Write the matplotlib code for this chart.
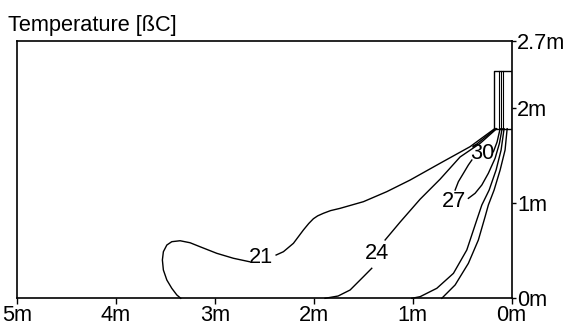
import matplotlib
matplotlib.use("Agg")
import matplotlib.pyplot as plt

plt.rcParams['font.family'] = ['Liberation Sans', 'DejaVu Sans']

# ejes (metros)
x_ticks = [5, 4, 3, 2, 1, 0]
x_labels = ["5m", "4m", "3m", "2m", "1m", "0m"]
y_ticks = [0, 1, 2, 2.7]
y_labels = ["0m", "1m", "2m", "2.7m"]

# difusor
box_x = [0.0, 0.18]
box_y = [1.78, 2.38]
vanes_x = [0.122, 0.105, 0.082]

# isoterma 21
c21a_x = [0.17, 0.419, 0.722, 1.025, 1.261, 1.497, 1.733, 1.830, 1.902, 1.960, 2.003, 2.050, 2.104, 2.205, 2.306, 2.380]
c21a_y = [1.78, 1.591, 1.417, 1.241, 1.119, 1.014, 0.944, 0.920, 0.892, 0.865, 0.835, 0.785, 0.717, 0.577, 0.489, 0.454]
c21b_x = [2.650, 2.812, 2.980, 3.149, 3.250, 3.351, 3.435, 3.485, 3.520, 3.530, 3.520, 3.485, 3.435, 3.384, 3.344]
c21b_y = [0.384, 0.420, 0.472, 0.541, 0.583, 0.604, 0.594, 0.559, 0.489, 0.402, 0.297, 0.192, 0.105, 0.035, 0.0]

# isoterma 24
c24a_x = [0.15, 0.317, 0.520, 0.722, 0.924, 1.126, 1.278]
c24a_y = [1.78, 1.626, 1.483, 1.25, 1.04, 0.80, 0.612]
c24b_x = [1.413, 1.497, 1.632, 1.753, 1.885]
c24b_y = [0.315, 0.227, 0.087, 0.024, 0.0]

# isotermas 27 / 30
p1_x = [0.16, 0.277, 0.385]
p1_y = [1.78, 1.681, 1.591]
p2_x = [0.401, 0.436, 0.486, 0.537, 0.570]
p2_y = [1.451, 1.399, 1.312, 1.224, 1.136]
p3_x = [0.183, 0.146, 0.115]
p3_y = [1.538, 1.640, 1.78]
p4_x = [0.436, 0.368, 0.300, 0.234, 0.166, 0.122, 0.095]
p4_y = [1.049, 1.102, 1.189, 1.312, 1.469, 1.626, 1.78]
p5_x = [0.075, 0.105, 0.156, 0.226, 0.300, 0.351, 0.452, 0.587, 0.755, 0.924, 1.008]
p5_y = [1.78, 1.556, 1.346, 1.136, 0.979, 0.822, 0.507, 0.262, 0.105, 0.017, 0.0]
p6_x = [0.044, 0.065, 0.115, 0.176, 0.234, 0.267, 0.335, 0.436, 0.570, 0.705]
p6_y = [1.78, 1.556, 1.346, 1.136, 0.979, 0.856, 0.612, 0.367, 0.140, 0.0]

# etiquetas
lab_text = ["21", "24", "27", "30"]
lab_x = [2.529, 1.362, 0.582, 0.292]
lab_y = [0.428, 0.465, 1.014, 1.522]

fs = 15.7

fig = plt.figure(figsize=(5.75, 3.22), dpi=100)
ax = fig.add_axes([17 / 575, 23.7 / 322, 494.5 / 575, 257.3 / 322])

lw = 1.0
for xs, ys in [(c21a_x, c21a_y), (c21b_x, c21b_y), (c24a_x, c24a_y), (c24b_x, c24b_y),
               (p1_x, p1_y), (p2_x, p2_y), (p3_x, p3_y), (p4_x, p4_y),
               (p5_x, p5_y), (p6_x, p6_y)]:
    ax.plot(xs, ys, color="black", lw=lw, clip_on=False, solid_joinstyle="round")

# difusor
ax.plot([box_x[0], box_x[1], box_x[1], box_x[0], box_x[0]],
        [box_y[0], box_y[0], box_y[1], box_y[1], box_y[0]], color="black", lw=lw)
for v in vanes_x:
    ax.plot([v, v], box_y, color="black", lw=0.8)

for t, x, y in zip(lab_text, lab_x, lab_y):
    ax.text(x, y, t, fontsize=fs, ha="center", va="center")

ax.set_xlim(5, 0)
ax.set_ylim(0, 2.7)
ax.set_xticks(x_ticks)
ax.set_xticklabels(x_labels)
ax.set_yticks(y_ticks)
ax.set_yticklabels(y_labels)
ax.yaxis.tick_right()
ax.tick_params(axis="x", direction="out", length=4, width=1, pad=1, labelsize=fs)
ax.tick_params(axis="y", direction="out", length=3, width=1, pad=1, labelsize=fs)
for s in ax.spines.values():
    s.set_linewidth(1.2)

fig.text(8 / 575, 1 - 30.5 / 322, "Temperature [ßC]", fontsize=fs, va="baseline", ha="left")

fig.savefig("out.png", dpi=100)
